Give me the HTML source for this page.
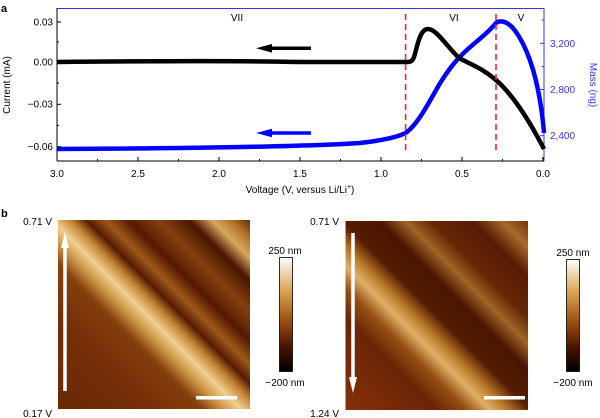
<!DOCTYPE html>
<html><head><meta charset="utf-8"><style>
body{margin:0;background:#fff;}
svg{display:block;font-family:"Liberation Sans",sans-serif;}
</style></head><body>
<svg width="600" height="418" viewBox="0 0 600 418" xmlns="http://www.w3.org/2000/svg">
<defs>
<linearGradient id="gL" gradientUnits="userSpaceOnUse" x1="58" y1="409" x2="248.5" y2="218.5">
<stop offset="0" stop-color="#6a2806"/>
<stop offset="0.25" stop-color="#762e08"/>
<stop offset="0.38" stop-color="#86400c"/>
<stop offset="0.43" stop-color="#c88e40"/>
<stop offset="0.48" stop-color="#f0d090"/>
<stop offset="0.53" stop-color="#c08030"/>
<stop offset="0.57" stop-color="#561c02"/>
<stop offset="0.62" stop-color="#a05818"/>
<stop offset="0.68" stop-color="#561a02"/>
<stop offset="0.76" stop-color="#84400e"/>
<stop offset="0.84" stop-color="#4a1600"/>
<stop offset="0.9" stop-color="#d8a860"/>
<stop offset="0.95" stop-color="#b07228"/>
<stop offset="1" stop-color="#6a2806"/>
</linearGradient>
<linearGradient id="gR" gradientUnits="userSpaceOnUse" x1="345" y1="410" x2="531" y2="224">
<stop offset="0" stop-color="#862f08"/>
<stop offset="0.25" stop-color="#6a2606"/>
<stop offset="0.33" stop-color="#965014"/>
<stop offset="0.39" stop-color="#e0b068"/>
<stop offset="0.44" stop-color="#b87828"/>
<stop offset="0.5" stop-color="#561c02"/>
<stop offset="0.6" stop-color="#4a1600"/>
<stop offset="0.67" stop-color="#a06426"/>
<stop offset="0.74" stop-color="#662606"/>
<stop offset="0.85" stop-color="#561c02"/>
<stop offset="0.93" stop-color="#a86a2a"/>
<stop offset="1" stop-color="#763008"/>
</linearGradient>
<linearGradient id="cb" x1="0" y1="0" x2="0" y2="1">
<stop offset="0" stop-color="#ffffff"/>
<stop offset="0.3" stop-color="#d8a050"/>
<stop offset="0.55" stop-color="#a05010"/>
<stop offset="0.78" stop-color="#4a1400"/>
<stop offset="1" stop-color="#000000"/>
</linearGradient>
</defs>

<text x="1" y="12" font-size="11" font-weight="bold">a</text>
<line x1="57" y1="8.5" x2="544" y2="8.5" stroke="#3333ff" stroke-width="1"/>
<line x1="544" y1="8" x2="544" y2="161" stroke="#3333ff" stroke-width="1"/>
<line x1="57" y1="8" x2="57" y2="161" stroke="#000" stroke-width="1"/>
<line x1="57" y1="161" x2="544" y2="161" stroke="#000" stroke-width="1"/>
<g stroke="#000" stroke-width="1">
<line x1="57" y1="22" x2="61" y2="22"/><line x1="57" y1="62" x2="61" y2="62"/>
<line x1="57" y1="104.3" x2="61" y2="104.3"/><line x1="57" y1="146.7" x2="61" y2="146.7"/>
<line x1="57" y1="42" x2="59" y2="42"/><line x1="57" y1="83" x2="59" y2="83"/><line x1="57" y1="125.5" x2="59" y2="125.5"/>
</g>
<g font-size="10" text-anchor="end" fill="#000">
<text x="53" y="25.5">0.03</text><text x="53" y="65.5">0.00</text>
<text x="53" y="107.5">−0.03</text><text x="53" y="150">−0.06</text>
</g>
<text transform="translate(10,85) rotate(-90)" font-size="10" text-anchor="middle">Current (mA)</text>
<g stroke="#3333ff" stroke-width="1">
<line x1="540" y1="43.3" x2="544" y2="43.3"/><line x1="540" y1="89.5" x2="544" y2="89.5"/><line x1="540" y1="135.7" x2="544" y2="135.7"/>
<line x1="542" y1="20" x2="544" y2="20"/><line x1="542" y1="66.5" x2="544" y2="66.5"/><line x1="542" y1="112.5" x2="544" y2="112.5"/><line x1="542" y1="158" x2="544" y2="158"/>
</g>
<g font-size="10" fill="#3333ff">
<text x="550" y="47">3,200</text><text x="550" y="93">2,800</text><text x="550" y="139">2,400</text>
</g>
<text transform="translate(590,85) rotate(90)" font-size="10" text-anchor="middle" fill="#3333ff">Mass (ng)</text>
<g stroke="#000" stroke-width="1">
<line x1="57" y1="161" x2="57" y2="157"/><line x1="138" y1="161" x2="138" y2="157"/><line x1="219" y1="161" x2="219" y2="157"/>
<line x1="300" y1="161" x2="300" y2="157"/><line x1="381" y1="161" x2="381" y2="157"/><line x1="462" y1="161" x2="462" y2="157"/><line x1="543" y1="161" x2="543" y2="157"/>
<line x1="97.5" y1="161" x2="97.5" y2="159"/><line x1="178.5" y1="161" x2="178.5" y2="159"/><line x1="259.5" y1="161" x2="259.5" y2="159"/>
<line x1="340.5" y1="161" x2="340.5" y2="159"/><line x1="421.5" y1="161" x2="421.5" y2="159"/><line x1="502.5" y1="161" x2="502.5" y2="159"/>
</g>
<g font-size="10" text-anchor="middle">
<text x="57" y="177">3.0</text><text x="138" y="177">2.5</text><text x="219" y="177">2.0</text>
<text x="300" y="177">1.5</text><text x="381" y="177">1.0</text><text x="462" y="177">0.5</text><text x="543" y="177">0.0</text>
</g>
<text x="300" y="193" font-size="10" text-anchor="middle">Voltage (V, versus Li/Li<tspan font-size="7" dy="-4">+</tspan><tspan dy="4">)</tspan></text>
<g font-size="10" text-anchor="middle">
<text x="237" y="21">VII</text><text x="454" y="21">VI</text><text x="521" y="21">V</text>
</g>
<path d="M57,149 C150,148.5 300,147 360,143 C385,140 398,137 406,132.7 C418,124 428,104 440,83.3 C450,67 458,58 468,49 C478,40 488,33 496,23 C500,20 506,21 512,27 C522,38 532,60 538,90 C541,105 543,120 544,133" fill="none" stroke="#0000ff" stroke-width="4.5" stroke-linejoin="round"/>
<path d="M57,62 C150,61 230,60.5 300,62 L408,62 C413,62 414,58 416,50 C419,38 422,29 428,29 C436,29 445,44 459,58 C470,64 482,68 496,80 C512,94 528,118 544,149" fill="none" stroke="#000" stroke-width="4.5" stroke-linejoin="round"/>
<line x1="405.6" y1="14" x2="405.6" y2="154" stroke="#ff2020" stroke-width="1.6" stroke-dasharray="6,4"/>
<line x1="496" y1="14" x2="496" y2="154" stroke="#ff2020" stroke-width="1.6" stroke-dasharray="6,4"/>
<line x1="311" y1="48.3" x2="268" y2="48.3" stroke="#000" stroke-width="3.5"/>
<polygon points="256,48.3 272,44 272,52.6" fill="#000"/>
<line x1="311" y1="133" x2="268" y2="133" stroke="#0000ff" stroke-width="3.5"/>
<polygon points="256,133 272,128.7 272,137.3" fill="#0000ff"/>

<text x="1" y="217" font-size="11" font-weight="bold">b</text>
<g font-size="10" text-anchor="end">
<text x="52" y="225">0.71 V</text><text x="52" y="417">0.17 V</text>
<text x="339" y="225">0.71 V</text><text x="339" y="417">1.24 V</text>
</g>
<rect x="58" y="220" width="192" height="189" fill="url(#gL)"/>
<rect x="345.5" y="221" width="182.5" height="189" fill="url(#gR)"/>
<line x1="65" y1="391" x2="65" y2="244" stroke="#fff" stroke-width="3.5"/>
<polygon points="65,232 61,248 69,248" fill="#fff"/>
<line x1="353" y1="233" x2="353" y2="381" stroke="#fff" stroke-width="3.5"/>
<polygon points="353,393 349,377 357,377" fill="#fff"/>
<rect x="196" y="396" width="41" height="3.5" fill="#fff"/>
<rect x="484" y="396" width="41" height="3.5" fill="#fff"/>
<rect x="279.5" y="257.5" width="13" height="114" fill="url(#cb)" stroke="#000" stroke-width="0.8"/>
<rect x="566.5" y="259.5" width="13" height="112" fill="url(#cb)" stroke="#000" stroke-width="0.8"/>
<g font-size="10" text-anchor="middle">
<text x="285" y="254">250 nm</text><text x="285" y="386">−200 nm</text>
<text x="573" y="256">250 nm</text><text x="573" y="386">−200 nm</text>
</g>
</svg>
</body></html>
